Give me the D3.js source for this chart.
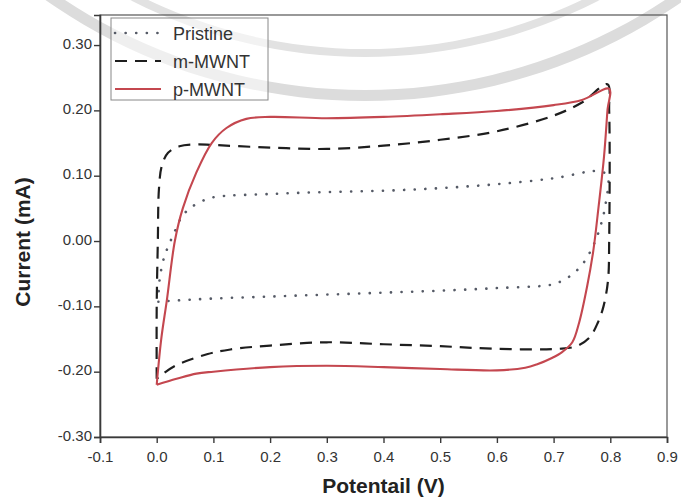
<!DOCTYPE html>
<html>
<head>
<meta charset="utf-8">
<script src="https://cdn.jsdelivr.net/npm/d3@7"></script>
<style>
  body { margin: 0; background: #fff; }
  svg { display: block; font-family: "Liberation Sans", Arial, sans-serif; }
</style>
</head>
<body>
<div id="cv-chart"></div>
<script>
// [potential (V), current (mA)], loop order
const pristine = [
  [0.003, -0.093], [0.005, -0.06], [0.013, -0.025], [0.022, -0.005], [0.032, 0.015],
  [0.045, 0.038], [0.06, 0.051], [0.08, 0.061], [0.1, 0.067], [0.2, 0.072],
  [0.3, 0.075], [0.4, 0.077], [0.5, 0.081], [0.6, 0.087], [0.7, 0.096], [0.78, 0.107],
  [0.795, 0.1], [0.792, 0.058], [0.785, 0.03], [0.775, 0.003], [0.766, -0.014],
  [0.754, -0.032], [0.736, -0.049], [0.715, -0.061], [0.695, -0.067], [0.6, -0.072],
  [0.5, -0.076], [0.4, -0.079], [0.3, -0.082], [0.2, -0.085], [0.1, -0.088],
  [0.035, -0.091], [0.003, -0.093]
];
const mMWNT = [
  [0.0, -0.211], [0.0, -0.1], [0.002, 0.0], [0.004, 0.08], [0.009, 0.115],
  [0.02, 0.135], [0.04, 0.145], [0.07, 0.148], [0.1, 0.147], [0.2, 0.143],
  [0.3, 0.141], [0.4, 0.146], [0.5, 0.155], [0.6, 0.168], [0.7, 0.192],
  [0.75, 0.212], [0.795, 0.24], [0.798, 0.2], [0.798, 0.0], [0.796, -0.06],
  [0.788, -0.1], [0.778, -0.125], [0.763, -0.148], [0.74, -0.161], [0.71, -0.165],
  [0.6, -0.165], [0.5, -0.161], [0.4, -0.158], [0.3, -0.155], [0.2, -0.16],
  [0.13, -0.166], [0.09, -0.173], [0.035, -0.19], [0.01, -0.204], [0.0, -0.211]
];
const pMWNT = [
  [0.0, -0.22], [0.008, -0.15], [0.018, -0.09], [0.032, 0.0], [0.046, 0.05],
  [0.07, 0.105], [0.097, 0.15], [0.123, 0.173], [0.158, 0.187], [0.2, 0.19],
  [0.3, 0.188], [0.4, 0.19], [0.5, 0.194], [0.6, 0.199], [0.7, 0.208],
  [0.75, 0.216], [0.798, 0.233], [0.795, 0.2], [0.789, 0.13], [0.779, 0.05],
  [0.77, -0.015], [0.759, -0.07], [0.745, -0.125], [0.733, -0.155], [0.715, -0.17],
  [0.697, -0.179], [0.67, -0.189], [0.65, -0.194], [0.6, -0.198], [0.5, -0.196],
  [0.4, -0.193], [0.3, -0.191], [0.2, -0.193], [0.1, -0.2], [0.07, -0.203],
  [0.035, -0.211], [0.0, -0.22]
];
const seriesNames = ['Pristine', 'm-MWNT', 'p-MWNT'];
const xTicks = [-0.1, 0.0, 0.1, 0.2, 0.3, 0.4, 0.5, 0.6, 0.7, 0.8, 0.9];
const yTicks = [-0.30, -0.20, -0.10, 0.00, 0.10, 0.20, 0.30];

const width = 681, height = 498;
const margin = { left: 100, right: 14, top: 15, bottom: 61 };

const svg = d3.select('#cv-chart').append('svg')
  .attr('width', width)
  .attr('height', height);

// faint watermark bands behind the chart
const wm = svg.append('g').attr('transform', 'translate(365,-455)');
wm.append('path')
  .attr('d', d3.arc()({ innerRadius: 545, outerRadius: 556, startAngle: Math.PI * 0.7, endAngle: Math.PI * 1.3 }))
  .attr('fill', '#dcdcdc');
wm.append('path')
  .attr('d', d3.arc()({ innerRadius: 504, outerRadius: 512, startAngle: Math.PI * 0.7, endAngle: Math.PI * 1.3 }))
  .attr('fill', '#e2e2e2');

const x = d3.scaleLinear().domain([-0.1, 0.9]).range([margin.left, width - margin.right]);
const y = d3.scaleLinear().domain([-0.30, 0.346]).range([height - margin.bottom, margin.top]);

const axisColor = '#3a3a3a';

// frame
svg.append('rect')
  .attr('x', margin.left).attr('y', margin.top)
  .attr('width', width - margin.left - margin.right)
  .attr('height', height - margin.top - margin.bottom)
  .attr('fill', 'none').attr('stroke', '#555').attr('stroke-width', 1.2);

// plain hyphen minus, as in the original
const hyphen = f => d => f(d).replace('\u2212', '-');
const xMinor = d3.range(-0.1, 0.901, 0.05);
const yMinor = d3.range(-0.30, 0.341, 0.02);

const xAxisG = svg.append('g')
  .attr('transform', `translate(0,${height - margin.bottom})`);
xAxisG.call(d3.axisBottom(x).tickValues(xMinor).tickSize(3).tickFormat(''));
xAxisG.call(d3.axisBottom(x).tickValues(xTicks).tickSize(6).tickPadding(8).tickFormat(hyphen(d3.format('.1f'))));

const yAxisG = svg.append('g')
  .attr('transform', `translate(${margin.left},0)`);
yAxisG.call(d3.axisLeft(y).tickValues(yMinor).tickSize(3).tickFormat(''));
yAxisG.call(d3.axisLeft(y).tickValues(yTicks).tickSize(6).tickPadding(2).tickFormat(hyphen(d3.format('.2f'))));

svg.selectAll('.domain').attr('stroke', axisColor).attr('stroke-width', 1.6);
svg.selectAll('.tick line').attr('stroke', axisColor).attr('stroke-width', 1.4);
svg.selectAll('.tick text')
  .attr('fill', '#333')
  .attr('font-size', 15)
  .attr('font-family', '"Liberation Sans", Arial, sans-serif');
yAxisG.selectAll('.tick text').attr('dy', '0.2em');

// axis titles
svg.append('text')
  .attr('x', x(0.4)).attr('y', 493)
  .attr('text-anchor', 'middle')
  .attr('font-size', 21).attr('font-weight', 'bold').attr('fill', '#222')
  .text('Potentail (V)');
svg.append('text')
  .attr('transform', 'translate(30,242) rotate(-90)')
  .attr('text-anchor', 'middle')
  .attr('font-size', 21).attr('font-weight', 'bold').attr('fill', '#222')
  .text('Current (mA)');

// curves
const line = d3.line().x(d => x(d[0])).y(d => y(d[1])).curve(d3.curveCatmullRom.alpha(0.5));
const styles = [
  { data: pristine, stroke: '#555a66', width: 2.6, dash: '0.1,10.5', cap: 'round' },
  { data: mMWNT, stroke: '#1e1e1e', width: 2.2, dash: '12,8', cap: 'butt' },
  { data: pMWNT, stroke: '#c4474f', width: 2.1, dash: null, cap: 'butt' }
];
const plot = svg.append('g');
styles.forEach(s => {
  plot.append('path')
    .attr('d', line(s.data))
    .attr('fill', 'none')
    .attr('stroke', s.stroke)
    .attr('stroke-width', s.width)
    .attr('stroke-linecap', s.cap)
    .attr('stroke-linejoin', 'round')
    .attr('stroke-dasharray', s.dash);
});

// legend
const legend = svg.append('g');
legend.append('rect')
  .attr('x', 111).attr('y', 18).attr('width', 157).attr('height', 82)
  .attr('fill', '#fff').attr('fill-opacity', 0.55)
  .attr('stroke', '#888').attr('stroke-width', 1);
seriesNames.forEach((name, i) => {
  const ly = 33 + i * 28;
  const s = styles[i];
  legend.append('line')
    .attr('x1', 115).attr('x2', 161).attr('y1', ly).attr('y2', ly)
    .attr('stroke', s.stroke).attr('stroke-width', s.width)
    .attr('stroke-linecap', s.cap)
    .attr('stroke-dasharray', s.dash);
  legend.append('text')
    .attr('x', 173).attr('y', ly + 6.5)
    .attr('font-size', 18).attr('fill', '#333')
    .text(name);
});
</script>
</body>
</html>
